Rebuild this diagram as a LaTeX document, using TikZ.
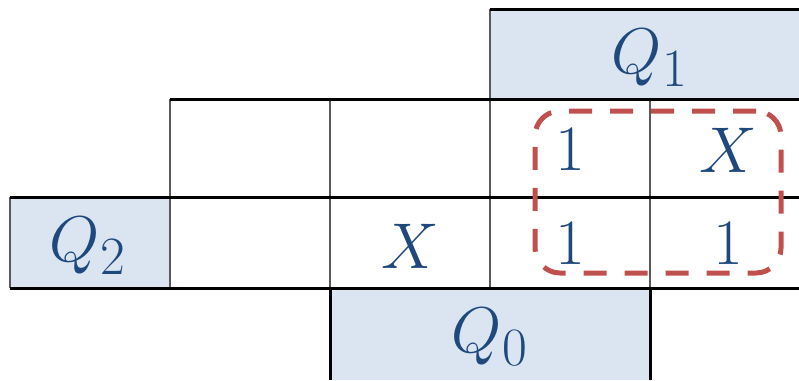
\documentclass[tikz,border=0pt]{standalone}
\usepackage{graphicx}
\usepackage{xcolor}
\usepackage{tikz}
\usetikzlibrary{positioning}

\definecolor{kfill}{HTML}{DBE5F1}
\definecolor{ktext}{HTML}{1F497D}
\definecolor{kred}{HTML}{C0504D}
\definecolor{kgrid}{HTML}{595959}

\newcommand{\kval}[1]{\scalebox{2.6}{$#1$}}

\begin{document}
\begin{tikzpicture}[
  x=1pt, y=-1pt,
  every node/.style = {font=\Huge, text=ktext, inner sep=0pt},
  head/.style  = {fill=kfill},
  hline/.style = {line width=3pt, black},
  vline/.style = {line width=2pt, kgrid},
  group/.style = {draw=kred, dash pattern=on 23pt off 18pt, line width=5pt,
                  rounded corners=25pt, minimum width=246pt, minimum height=162pt}
]
\useasboundingbox (0,0) rectangle (799,380);
\clip (0,0) rectangle (799,380);

% header fills
\fill[head] (490,9)   rectangle (810,99);
\fill[head] (10,197)  rectangle (170,288);
\fill[head] (330,288) rectangle (650,380);

% grid: gray verticals, black horizontals
\draw[vline] (10,197)  -- (10,288);
\draw[vline] (170,99)  -- (170,288);
\draw[vline] (330,99)  -- (330,288);
\draw[vline] (490,9)   -- (490,288);
\draw[vline] (650,99)  -- (650,288);
\draw[hline] (330,288) -- (330,380);
\draw[hline] (650,288) -- (650,380);

\draw[hline] (490,9)   -- (810,9);
\draw[hline] (170,99)  -- (810,99);
\draw[hline] (10,197)  -- (810,197);
\draw[hline] (10,288)  -- (810,288);

% headers
\node (q1) at (650,58)  {\kval{Q_1}};
\node (q2) at (88,246)  {\kval{Q_2}};
\node (q0) at (490,337) {\kval{Q_0}};

% cells
\node (c13) at (570,150) {\kval{1}};
\node (c14) at (728,150) {\kval{X}};
\node (c22) at (410,246) {\kval{X}};
\node (c23) at (570,244) {\kval{1}};
\node (c24) at (728,244) {\kval{1}};

% grouping of the four ones
\node[group] (grp) at (658,192) {};

\end{tikzpicture}
\end{document}
